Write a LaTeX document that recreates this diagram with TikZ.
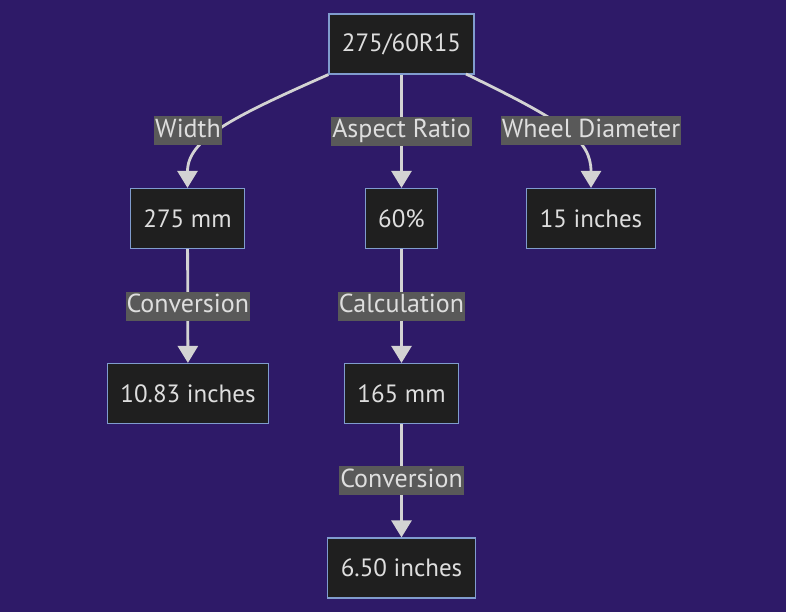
\documentclass[tikz,border=0pt]{standalone}
\usepackage{fontspec}
\setmainfont{PT Sans}
\usetikzlibrary{arrows.meta}
\definecolor{bgpurple}{RGB}{46,26,104}
\definecolor{boxfill}{RGB}{31,31,31}
\definecolor{boxline}{RGB}{128,156,206}
\definecolor{edgegray}{RGB}{211,211,211}
\definecolor{lblfill}{RGB}{89,89,89}
\definecolor{txtgray}{RGB}{222,222,222}
\tikzset{
  box/.style={draw=boxline, fill=boxfill, line width=1.2pt, text=txtgray,
    font=\fontsize{25}{30}\selectfont, inner xsep=13pt, minimum height=60pt},
  lbl/.style={fill=lblfill, text=txtgray, font=\fontsize{26}{31}\selectfont,
    inner xsep=1pt, inner ysep=2pt, text height=19pt, text depth=6pt},
  link/.style={draw=edgegray, line width=2.8pt,
    -{Triangle[width=20pt,length=17pt]}}
}
\begin{document}
\begin{tikzpicture}[x=1pt,y=-1pt]
      \fill[bgpurple] (0,0) rectangle (786,612);
      \useasboundingbox (0,0) rectangle (786,612);
      \node[box] (tire) at (401.5,44) {275/60R15};
      \node[box] (width) at (187.5,218.5) {275 mm};
      \node[box] (ratio) at (401.5,218.5) {60\%};
      \node[box] (rim) at (591,218.5) {15 inches};
      \node[box] (widthin) at (188,393.5) {10.83 inches};
      \node[box] (sidewall) at (401.5,393.5) {165 mm};
      \node[box] (sidewallin) at (401.5,568) {6.50 inches};
      \coordinate (rimstart) at (466,74);
      \begin{scope}[link]
        \draw (tire.south west) .. controls (230,118) and (187.5,140) .. (width.north);
        \draw (rimstart) .. controls (565,122) and (591,140) .. (rim.north);
        \draw (tire) -- node[lbl] (lratio) {Aspect Ratio} (ratio);
        \draw (width) -- node[lbl] (lconv) {Conversion} (widthin);
        \draw (ratio) -- node[lbl] (lcalc) {Calculation} (sidewall);
        \draw (sidewall) -- node[lbl] (lconvb) {Conversion} (sidewallin);
      \end{scope}
      \node[lbl] (lwidth) at (188,131) {Width};
      \node[lbl] (lrim) at (591,131) {Wheel Diameter};
    \end{tikzpicture}
\end{document}
